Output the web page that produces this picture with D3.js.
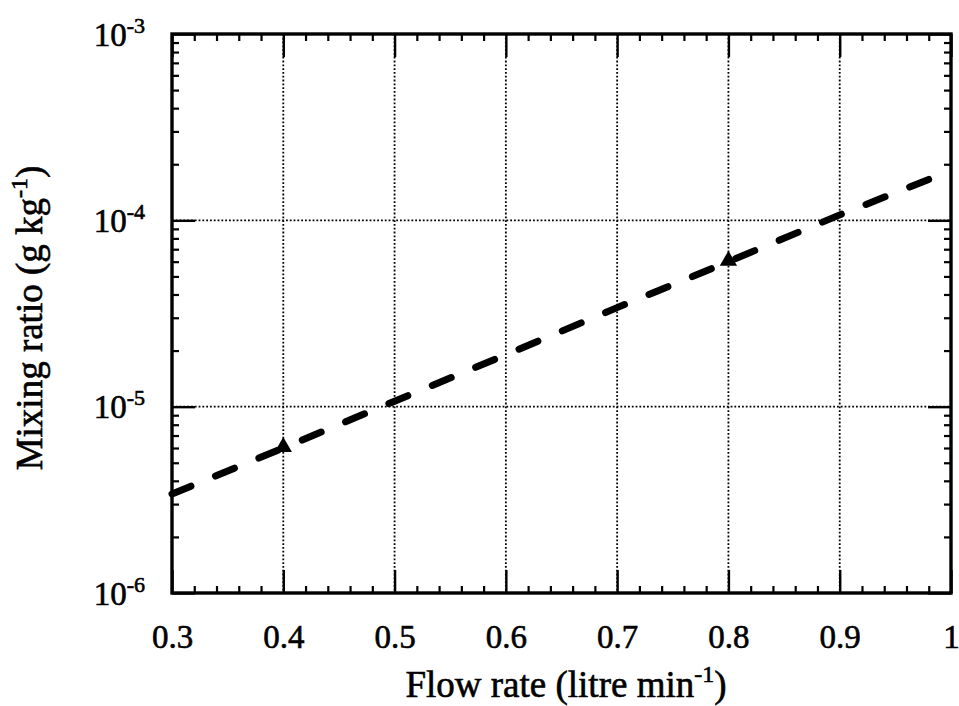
<!DOCTYPE html>
<html>
<head>
<meta charset="utf-8">
<script src="https://cdn.jsdelivr.net/npm/d3@7"></script>
<style>
  body { margin: 0; background: #fff; }
  svg { display: block; }
  text { font-family: "Liberation Serif", "DejaVu Serif", serif; fill: #000; stroke: #000; stroke-width: 0.6px; }
</style>
</head>
<body>
<svg id="chart" width="959" height="706"></svg>
<script>
// ---- data ----
const xTickValues = [0.3, 0.4, 0.5, 0.6, 0.7, 0.8, 0.9, 1.0];
const xTickLabels = ["0.3", "0.4", "0.5", "0.6", "0.7", "0.8", "0.9", "1"];
const yTickValues = [1e-6, 1e-5, 1e-4, 1e-3];
const yTickExponents = ["-6", "-5", "-4", "-3"];
const lineX = [0.3, 0.4, 0.5, 0.6, 0.7, 0.8, 0.9, 1.0];
const lineY = [3.4e-6, 6.0e-6, 1.07e-5, 1.9e-5, 3.4e-5, 6.0e-5, 1.07e-4, 1.85e-4];
const markerX = [0.4, 0.8];
const markerY = [6.0e-6, 6.0e-5];

// ---- layout ----
const L = 172, R = 951, T = 34, B = 593;
const TICKFS = 33, LABFS = 37, SUP = 22;
const svg = d3.select("#chart");
const x = d3.scaleLinear().domain([0.3, 1.0]).range([L, R]);
const y = d3.scaleLog().domain([1e-6, 1e-3]).range([B, T]);

// grid
const grid = svg.append("g").attr("stroke", "#000").attr("stroke-width", 1.8)
  .attr("stroke-dasharray", "1.8,2");
xTickValues.slice(1, -1).forEach(v => {
  grid.append("line").attr("x1", x(v)).attr("x2", x(v)).attr("y1", T).attr("y2", B);
});
yTickValues.slice(1, -1).forEach(v => {
  grid.append("line").attr("y1", y(v)).attr("y2", y(v)).attr("x1", L).attr("x2", R);
});

// minor tick values
const xMinor = d3.range(0.3, 1.0001, 0.02).filter(v => Math.abs(Math.round(v * 10) - v * 10) > 1e-6);
const yMinor = [];
[1e-6, 1e-5, 1e-4].forEach(d => { for (let k = 2; k <= 9; k++) yMinor.push(d * k); });

const majorLen = 23, minorLen = 7;
// bottom axis (ticks inward)
svg.append("g").attr("transform", `translate(0,${B})`)
  .call(d3.axisBottom(x).tickValues(xTickValues).tickSizeInner(-majorLen).tickSizeOuter(0).tickFormat((d, i) => xTickLabels[i]))
  .call(g => g.select(".domain").remove())
  .call(g => g.attr("font-family", null).attr("font-size", TICKFS))
  .call(g => g.selectAll(".tick line").attr("stroke-width", 2.4))
  .call(g => g.selectAll(".tick text").attr("dy", 0).attr("y", 55));
svg.append("g").attr("transform", `translate(0,${B})`)
  .call(d3.axisBottom(x).tickValues(xMinor).tickSizeInner(-minorLen).tickSizeOuter(0).tickFormat(""))
  .call(g => g.select(".domain").remove())
  .call(g => g.selectAll(".tick line").attr("stroke-width", 2.2));
// top axis
svg.append("g").attr("transform", `translate(0,${T})`)
  .call(d3.axisTop(x).tickValues(xTickValues).tickSizeInner(-majorLen).tickSizeOuter(0).tickFormat(""))
  .call(g => g.select(".domain").remove())
  .call(g => g.selectAll(".tick line").attr("stroke-width", 2.4));
svg.append("g").attr("transform", `translate(0,${T})`)
  .call(d3.axisTop(x).tickValues(xMinor).tickSizeInner(-minorLen).tickSizeOuter(0).tickFormat(""))
  .call(g => g.select(".domain").remove())
  .call(g => g.selectAll(".tick line").attr("stroke-width", 2.2));
// left axis
const leftAx = svg.append("g").attr("transform", `translate(${L},0)`)
  .call(d3.axisLeft(y).tickValues(yTickValues).tickSizeInner(-majorLen).tickSizeOuter(0).tickFormat(""))
  .call(g => g.select(".domain").remove())
  .call(g => g.attr("font-family", null).attr("font-size", TICKFS))
  .call(g => g.selectAll(".tick line").attr("stroke-width", 2.4));
leftAx.selectAll(".tick").each(function(d, i) {
  const t = d3.select(this).append("text")
    .attr("x", -27).attr("y", 11).attr("text-anchor", "end").attr("font-size", TICKFS);
  t.append("tspan").text("10");
  t.append("tspan").attr("dy", -13).attr("font-size", SUP).text(yTickExponents[i]);
});
svg.append("g").attr("transform", `translate(${L},0)`)
  .call(d3.axisLeft(y).tickValues(yMinor).tickSizeInner(-minorLen).tickSizeOuter(0).tickFormat(""))
  .call(g => g.select(".domain").remove())
  .call(g => g.selectAll(".tick line").attr("stroke-width", 2.2));
// right axis
svg.append("g").attr("transform", `translate(${R},0)`)
  .call(d3.axisRight(y).tickValues(yTickValues).tickSizeInner(-majorLen).tickSizeOuter(0).tickFormat(""))
  .call(g => g.select(".domain").remove())
  .call(g => g.selectAll(".tick line").attr("stroke-width", 2.4));
svg.append("g").attr("transform", `translate(${R},0)`)
  .call(d3.axisRight(y).tickValues(yMinor).tickSizeInner(-minorLen).tickSizeOuter(0).tickFormat(""))
  .call(g => g.select(".domain").remove())
  .call(g => g.selectAll(".tick line").attr("stroke-width", 2.2));

// frame
svg.append("rect").attr("x", L).attr("y", T).attr("width", R - L).attr("height", B - T)
  .attr("fill", "none").attr("stroke", "#000").attr("stroke-width", 3.4);

// dashed line
const pts = lineX.map((v, i) => [v, lineY[i]]);
svg.append("path").datum(pts)
  .attr("d", d3.line().x(d => x(d[0])).y(d => y(d[1])))
  .attr("fill", "none").attr("stroke", "#000").attr("stroke-width", 7)
  .attr("stroke-linecap", "round").attr("stroke-dasharray", "20.5,26.5");

// markers
const tri = d3.symbol().type(d3.symbolTriangle).size(130);
markerX.forEach((v, i) => {
  svg.append("path").attr("d", tri())
    .attr("transform", `translate(${x(v)},${y(markerY[i]) - 1})`).attr("fill", "#000");
});

// axis labels
const xl = svg.append("text").attr("x", 566).attr("y", 697)
  .attr("text-anchor", "middle").attr("font-size", LABFS);
xl.append("tspan").text("Flow rate (litre min");
xl.append("tspan").attr("dy", -15).attr("font-size", SUP + 2).text("-1");
xl.append("tspan").attr("dy", 15).text(")");

const yl = svg.append("text").attr("transform", `translate(42,318) rotate(-90)`)
  .attr("text-anchor", "middle").attr("font-size", LABFS);
yl.append("tspan").text("Mixing ratio (g kg");
yl.append("tspan").attr("dy", -15).attr("font-size", SUP + 2).text("-1");
yl.append("tspan").attr("dy", 15).text(")");
</script>
</body>
</html>
